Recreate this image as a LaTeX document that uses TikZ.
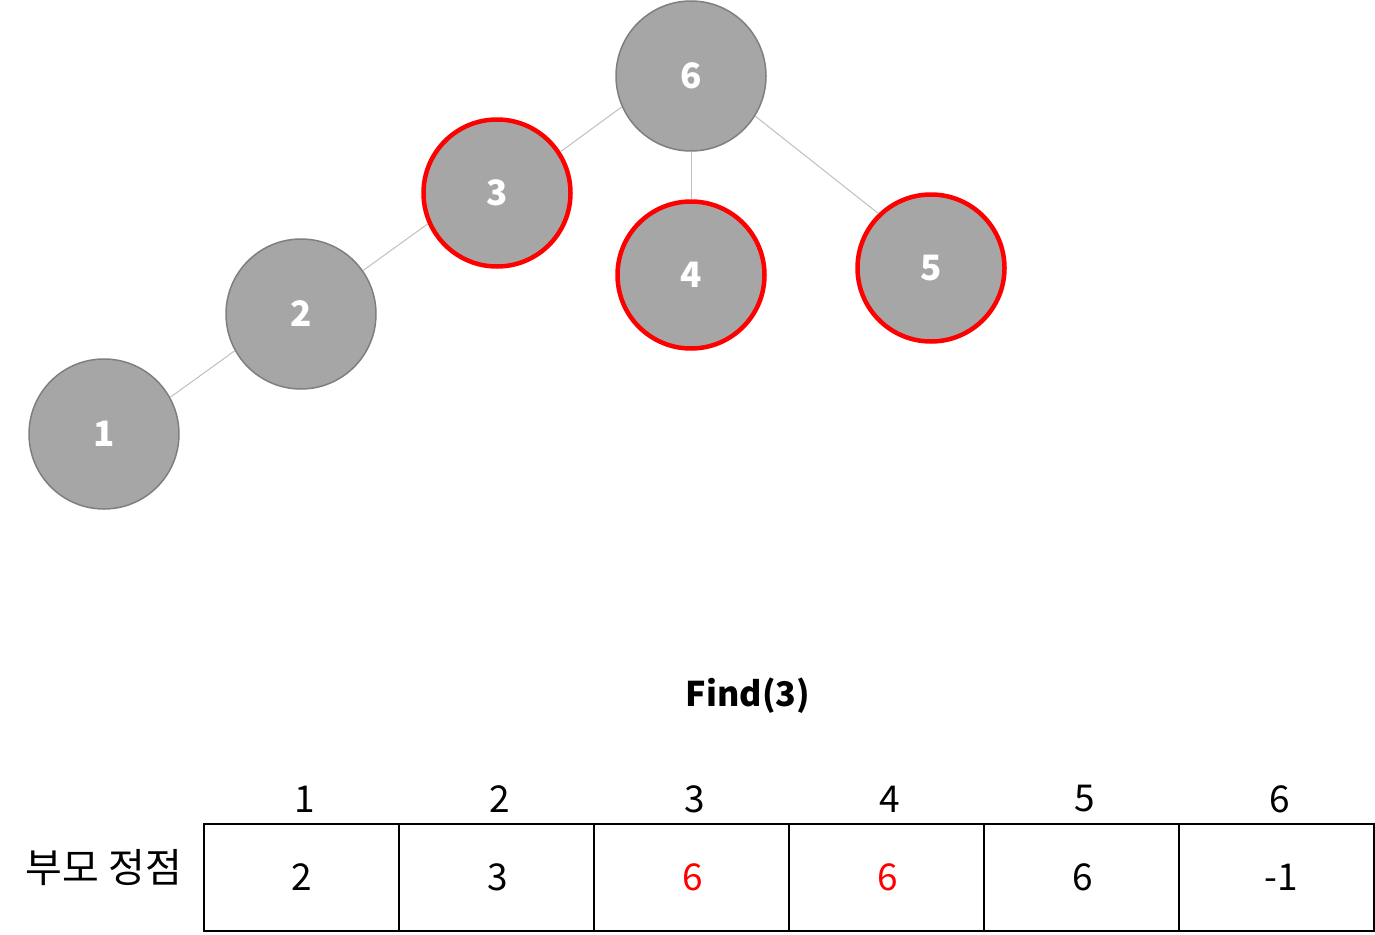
\documentclass[tikz,border=0pt]{standalone}
\usepackage{fontspec}
\setmainfont{Noto Sans CJK KR}
\begin{document}
\begin{tikzpicture}[x=1pt,y=-1pt,
  vtx/.style={circle,minimum size=150pt,inner sep=0pt,fill=nodefill,draw=nodeline,line width=1.5pt,
    text=white,font=\fontsize{35}{40}\selectfont\bfseries},
  hot/.style={draw=red,line width=4.5pt,minimum size=147pt},
  edge/.style={draw=edgecol,line width=1pt},
  cell/.style={draw=black,line width=1.5pt,minimum width=195pt,minimum height=107pt,inner sep=0pt,
    font=\fontsize{37}{40}\selectfont},
  head/.style={font=\fontsize{37}{40}\selectfont,inner sep=0pt}]
\definecolor{nodefill}{HTML}{A6A6A6}
\definecolor{nodeline}{HTML}{7F7F7F}
\definecolor{edgecol}{HTML}{BFBFBF}
\useasboundingbox (0,0) rectangle (1375,934);
% tree nodes
\node[vtx] (n6) at (691,76) {6};
\node[vtx,hot] (n3) at (497,193) {3};
\node[vtx,hot] (n4) at (691,275) {4};
\node[vtx,hot] (n5) at (931,268) {5};
\node[vtx] (n2) at (301,314) {2};
\node[vtx] (n1) at (104,434) {1};
\draw[edge] (n6.204) -- (n3.33);
\draw[edge] (n6) -- (n4);
\draw[edge] (n6.-32) -- (n5.134);
\draw[edge] (n3.204) -- (n2.35);
\draw[edge] (n2.209) -- (n1.29);
% title
\node[font=\fontsize{34}{40}\selectfont\bfseries] (title) at (748,696) {Find(3)};
% table
\foreach \i/\v/\c/\dx in {1/2/black/0,2/3/black/2,3/6/red/2,4/6/red/2,5/6/black/2,6/-1/black/10}{
  \node[cell,text=\c,text width=195pt,align=center] (c\i) at ({204+195*(\i-1)+97.5},877.5) {\hspace*{\dx pt}\v};
  \node[head] (h\i) at ({204+195*(\i-1)+101},799) {\i};
}
\node[font=\fontsize{40}{44}\selectfont,inner sep=0pt] (lbl) at (104,868) {부모 정점};
\end{tikzpicture}
\end{document}
